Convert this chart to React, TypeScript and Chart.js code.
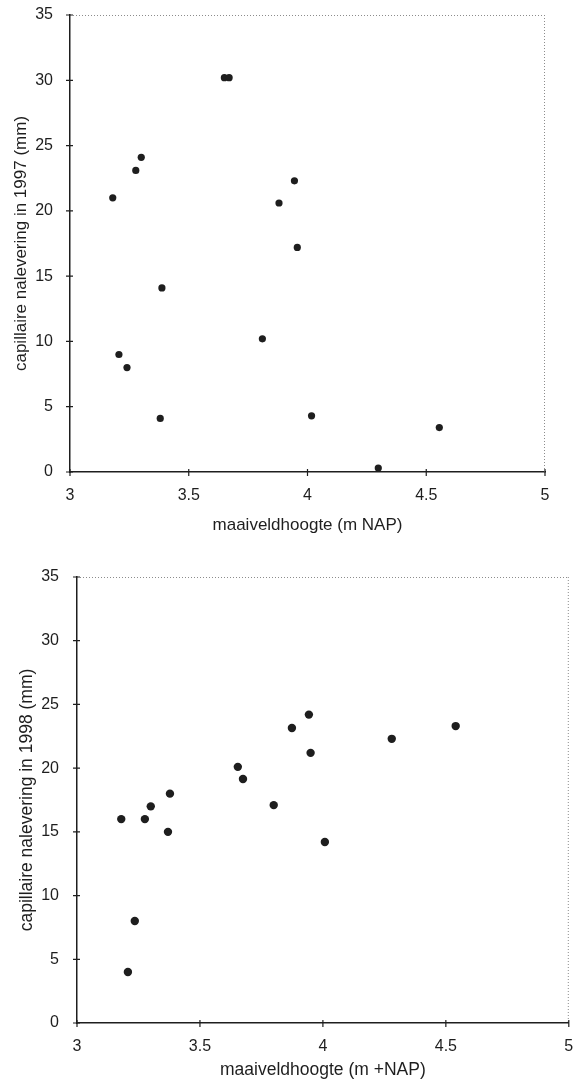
import React, { useEffect, useRef } from "react";
import { Chart, registerables } from "chart.js";

Chart.register(...registerables);

// 1997 panel
const x1997 = [3.18, 3.277, 3.30, 3.65, 3.67, 3.88, 3.945, 3.957, 3.387, 3.206, 3.24, 3.38, 3.81, 4.017, 4.555, 4.298];
const y1997 = [21.0, 23.1, 24.1, 30.2, 30.2, 20.6, 22.3, 17.2, 14.1, 9.0, 8.0, 4.1, 10.2, 4.3, 3.4, 0.3];

// 1998 panel
const x1998 = [3.18, 3.276, 3.30, 3.37, 3.378, 3.235, 3.207, 3.654, 3.675, 3.80, 3.874, 3.943, 3.95, 4.28, 4.54, 4.008];
const y1998 = [16.0, 16.0, 17.0, 15.0, 18.0, 8.0, 4.0, 20.1, 19.15, 17.1, 23.15, 24.2, 21.2, 22.3, 23.3, 14.2];

const xTicks = [3, 3.5, 4, 4.5, 5];
const yTicks = [0, 5, 10, 15, 20, 25, 30, 35];

const yTitle1997 = "capillaire nalevering in 1997 (mm)";
const yTitle1998 = "capillaire nalevering in 1998 (mm)";
const xTitle1997 = "maaiveldhoogte (m NAP)";
const xTitle1998 = "maaiveldhoogte (m +NAP)";

const FONT = "'Liberation Sans', Arial, Helvetica, sans-serif";
const INK = "#1e1e1e";

const framePlugin = {
  id: "frame",
  afterDraw(chart: any) {
    const { ctx, chartArea, scales } = chart;
    const { left, right, top, bottom } = chartArea;
    ctx.save();
    // dotted top and right frame
    ctx.strokeStyle = "#8c8c8c";
    ctx.lineWidth = 1;
    ctx.setLineDash([1, 2]);
    ctx.beginPath();
    ctx.moveTo(left, top + 0.5);
    ctx.lineTo(right, top + 0.5);
    ctx.moveTo(right - 0.5, top);
    ctx.lineTo(right - 0.5, bottom);
    ctx.stroke();
    ctx.setLineDash([]);
    // cross ticks
    ctx.strokeStyle = INK;
    ctx.lineWidth = 1.2;
    ctx.beginPath();
    xTicks.forEach((v) => {
      const px = scales.x.getPixelForValue(v);
      ctx.moveTo(px, bottom - 3);
      ctx.lineTo(px, bottom + 4);
    });
    yTicks.forEach((v) => {
      const py = scales.y.getPixelForValue(v);
      ctx.moveTo(left - 4, py);
      ctx.lineTo(left + 3, py);
    });
    ctx.stroke();
    ctx.restore();
  },
};

type PanelProps = {
  top: number;
  height: number;
  xs: number[];
  ys: number[];
  xTitle: string;
  yTitle: string;
  padTop: number;
  padRight: number;
  yWidth: number;
  xHeight: number;
  yTickPad: number;
  yTitlePad: number;
  xTitlePad: number;
  radius: number;
  tickSize: number;
  titleSize: number;
};

function Panel(p: PanelProps) {
  const ref = useRef<HTMLCanvasElement | null>(null);
  useEffect(() => {
    if (!ref.current) return;
    const data = p.xs.map((x, i) => ({ x, y: p.ys[i] }));
    const chart = new Chart(ref.current, {
      type: "scatter",
      data: {
        datasets: [
          {
            data,
            backgroundColor: INK,
            borderWidth: 0,
            pointRadius: p.radius,
            pointHoverRadius: p.radius,
            clip: false,
          } as any,
        ],
      },
      options: {
        animation: false,
        responsive: false,
        events: [],
        layout: { padding: { left: 0, right: p.padRight, top: p.padTop, bottom: 0 } },
        plugins: { legend: { display: false }, tooltip: { enabled: false } },
        scales: {
          x: {
            type: "linear",
            min: 3,
            max: 5,
            afterBuildTicks: (s: any) => {
              s.ticks = xTicks.map((v) => ({ value: v }));
            },
            afterFit: (s: any) => {
              s.height = p.xHeight;
              s.paddingLeft = 0;
              s.paddingRight = 0;
            },
            ticks: {
              autoSkip: false,
              maxRotation: 0,
              padding: 14,
              color: INK,
              font: { family: FONT, size: p.tickSize },
              callback: (v: any) => String(v),
            },
            grid: { display: true, drawOnChartArea: false, drawTicks: false, tickLength: 0 },
            border: { display: true, color: INK, width: 1.5 },
            title: {
              display: true,
              text: p.xTitle,
              color: INK,
              font: { family: FONT, size: p.titleSize },
              padding: { top: 0, bottom: p.xTitlePad },
            },
          },
          y: {
            type: "linear",
            min: 0,
            max: 35,
            afterBuildTicks: (s: any) => {
              s.ticks = yTicks.map((v) => ({ value: v }));
            },
            afterFit: (s: any) => {
              s.width = p.yWidth;
              s.paddingTop = 0;
              s.paddingBottom = 0;
            },
            ticks: {
              autoSkip: false,
              padding: p.yTickPad,
              color: INK,
              font: { family: FONT, size: p.tickSize },
              callback: (v: any) => String(v),
            },
            grid: { display: true, drawOnChartArea: false, drawTicks: false, tickLength: 0 },
            border: { display: true, color: INK, width: 1.5 },
            title: {
              display: true,
              text: p.yTitle,
              color: INK,
              font: { family: FONT, size: p.titleSize },
              padding: { top: p.yTitlePad, bottom: 0 },
            },
          },
        },
      } as any,
      plugins: [framePlugin],
    });
    return () => chart.destroy();
  }, []);
  return (
    <div style={{ position: "absolute", left: 0, top: p.top, width: 573, height: p.height }}>
      <canvas ref={ref} width={573} height={p.height} style={{ display: "block" }} />
    </div>
  );
}

export default function App() {
  return (
    <div style={{ position: "absolute", left: 0, top: 0, width: 573, height: 1085, background: "#fff", overflow: "hidden" }}>
      <Panel
        top={0}
        height={545}
        xs={x1997}
        ys={y1997}
        xTitle={xTitle1997}
        yTitle={yTitle1997}
        padTop={15}
        padRight={28}
        yWidth={70}
        xHeight={73}
        yTickPad={17}
        yTitlePad={11}
        xTitlePad={9}
        radius={3.6}
        tickSize={16}
        titleSize={17}
      />
      <Panel
        top={550}
        height={535}
        xs={x1998}
        ys={y1998}
        xTitle={xTitle1998}
        yTitle={yTitle1998}
        padTop={27}
        padRight={3}
        yWidth={77}
        xHeight={62}
        yTickPad={18}
        yTitlePad={17}
        xTitlePad={4}
        radius={4.2}
        tickSize={16}
        titleSize={17.5}
      />
    </div>
  );
}
